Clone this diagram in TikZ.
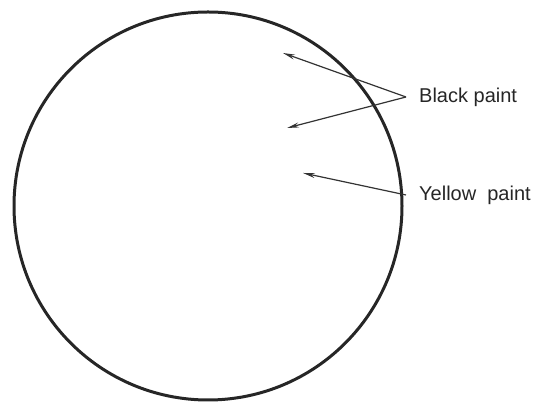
\documentclass[tikz,border=0pt]{standalone}
\usepackage{fontspec}
\setmainfont{Liberation Sans}
\usetikzlibrary{arrows.meta}
\begin{document}
\begin{tikzpicture}[x=1pt, y=1pt,
  disc/.style={draw=black!85, line width=3pt},
  lbl/.style={anchor=west, font=\fontsize{20}{24}\selectfont, text=black!85,
              inner xsep=13pt, inner ysep=0pt},
  a/.style={draw=black!80, line width=1.2pt,
            -{Stealth[length=12pt, width=5pt]}}]

  \useasboundingbox (0,0) rectangle (538,403);

  \node[disc, circle, minimum size=388pt, inner sep=0pt] (plate) at (208,197) {};

  \node[lbl] (black)  at (406,306) {Black paint};
  \node[lbl] (yellow) at (406,208) {Yellow\ \ paint};

  \coordinate (b1) at (283,350);
  \coordinate (b2) at (287,275);
  \coordinate (y1) at (303,230);

  \draw[a] (black.west) -- (b1);
  \draw[a] (black.west) -- (b2);
  \draw[a] (yellow.west) -- (y1);

\end{tikzpicture}
\end{document}
